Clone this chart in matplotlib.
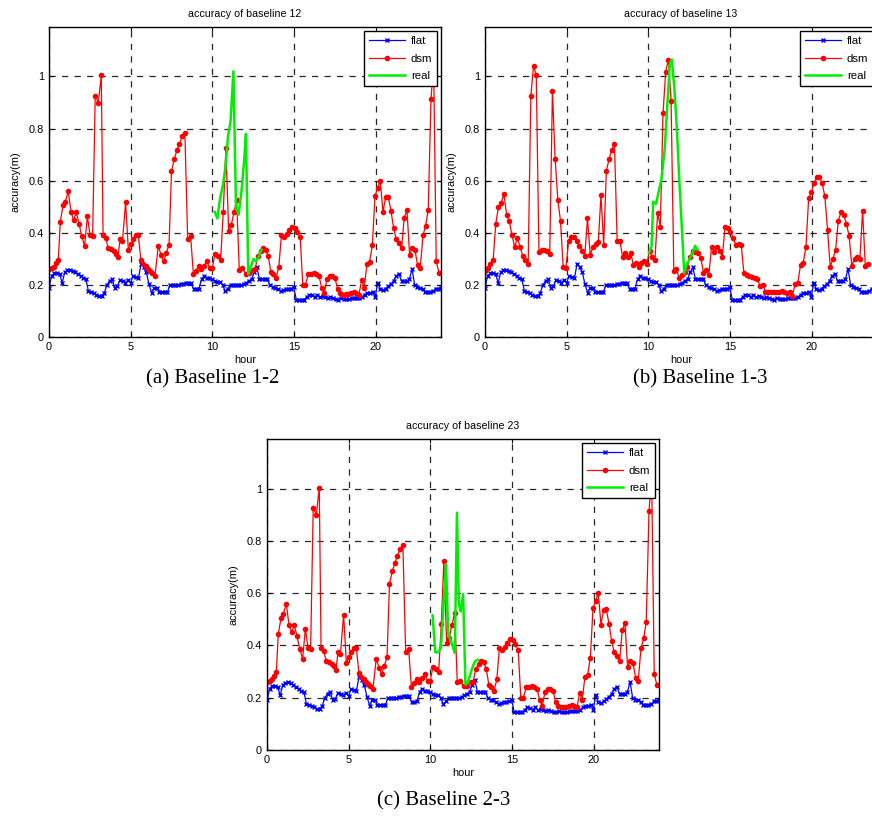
import matplotlib
matplotlib.use('Agg')
import matplotlib.pyplot as plt
import numpy as np

plt.rcParams['font.family'] = ['Liberation Sans', 'DejaVu Sans']

# flat model, 10 min samples over the day (same in all three baselines)
flat = [0.19, 0.235, 0.245, 0.245, 0.242, 0.209, 0.248, 0.258, 0.259, 0.255,
        0.248, 0.242, 0.235, 0.226, 0.222, 0.176, 0.173, 0.17, 0.163, 0.157,
        0.157, 0.17, 0.199, 0.216, 0.222, 0.19, 0.196, 0.22, 0.216, 0.209,
        0.218, 0.207, 0.235, 0.229, 0.226, 0.281, 0.268, 0.248, 0.203, 0.17,
        0.19, 0.19, 0.173, 0.173, 0.173, 0.173, 0.199, 0.199, 0.199, 0.199,
        0.203, 0.203, 0.207, 0.207, 0.207, 0.183, 0.183, 0.186, 0.222, 0.235,
        0.225, 0.225, 0.222, 0.216, 0.212, 0.212, 0.199, 0.176, 0.186, 0.199,
        0.199, 0.199, 0.199, 0.199, 0.204, 0.209, 0.216, 0.222, 0.248, 0.268,
        0.222, 0.222, 0.222, 0.222, 0.199, 0.193, 0.19, 0.183, 0.176, 0.18,
        0.183, 0.183, 0.186, 0.193, 0.144, 0.144, 0.144, 0.144, 0.154, 0.163,
        0.16, 0.154, 0.163, 0.154, 0.157, 0.154, 0.15, 0.154, 0.15, 0.146,
        0.144, 0.15, 0.146, 0.146, 0.146, 0.15, 0.15, 0.15, 0.15, 0.154,
        0.163, 0.17, 0.17, 0.173, 0.154, 0.209, 0.183, 0.18, 0.186, 0.196,
        0.203, 0.216, 0.235, 0.242, 0.216, 0.216, 0.216, 0.222, 0.261, 0.199,
        0.193, 0.19, 0.183, 0.173, 0.173, 0.173, 0.176, 0.186, 0.186, 0.19]
flat_hour = np.linspace(0, 24, len(flat))

# dsm model, baseline 12 (baseline 23 looks the same)
dsm_hour_12 = [0.0, 0.16, 0.3, 0.43, 0.57, 0.69, 0.86, 1.0, 1.18, 1.35,
               1.51, 1.67, 1.84, 2.0, 2.18, 2.35, 2.51, 2.67, 2.83, 3.02,
               3.2, 3.31, 3.47, 3.63, 3.8, 3.96, 4.1, 4.22, 4.35, 4.5,
               4.69, 4.86, 5.02, 5.16, 5.3, 5.47, 5.63, 5.78, 5.92, 6.06,
               6.18, 6.33, 6.49, 6.69, 6.86, 7.02, 7.18, 7.35, 7.5, 7.67,
               7.83, 7.99, 8.15, 8.32, 8.49, 8.67, 8.84, 9.0, 9.16, 9.33,
               9.49, 9.67, 9.84, 10.0, 10.16, 10.33, 10.51, 10.67, 10.83, 11.0,
               11.16, 11.33, 11.49, 11.65, 11.84, 12.04, 12.25, 12.46, 12.62, 12.78,
               12.95, 13.1, 13.27, 13.43, 13.58, 13.74, 13.9, 14.07, 14.23, 14.4,
               14.56, 14.72, 14.88, 15.05, 15.21, 15.38, 15.54, 15.7, 15.87, 16.03,
               16.2, 16.36, 16.53, 16.69, 16.86, 17.02, 17.18, 17.35, 17.51, 17.67,
               17.84, 18.0, 18.16, 18.33, 18.49, 18.65, 18.82, 18.98, 19.14, 19.3,
               19.47, 19.63, 19.8, 19.96, 20.12, 20.28, 20.45, 20.61, 20.77, 20.94,
               21.1, 21.26, 21.43, 21.59, 21.75, 21.92, 22.08, 22.24, 22.41, 22.57,
               22.73, 22.9, 23.06, 23.22, 23.39, 23.55, 23.71, 23.88]
dsm_12 = [0.26, 0.264, 0.27, 0.285, 0.297, 0.443, 0.505, 0.52, 0.56, 0.478,
          0.45, 0.478, 0.435, 0.388, 0.349, 0.464, 0.392, 0.387, 0.927, 0.90,
          1.004, 0.392, 0.38, 0.34, 0.336, 0.33, 0.32, 0.306, 0.375, 0.369,
          0.518, 0.333, 0.357, 0.375, 0.39, 0.39, 0.294, 0.28, 0.272, 0.261,
          0.252, 0.244, 0.235, 0.35, 0.315, 0.29, 0.323, 0.355, 0.636, 0.683,
          0.717, 0.742, 0.77, 0.783, 0.375, 0.388, 0.242, 0.255, 0.272, 0.261,
          0.274, 0.29, 0.264, 0.264, 0.319, 0.311, 0.297, 0.481, 0.724, 0.408,
          0.43, 0.48, 0.525, 0.259, 0.264, 0.243, 0.245, 0.259, 0.26, 0.31,
          0.33, 0.34, 0.335, 0.31, 0.25, 0.24, 0.225, 0.27, 0.39, 0.382,
          0.396, 0.41, 0.424, 0.42, 0.405, 0.383, 0.2, 0.2, 0.24, 0.242,
          0.245, 0.24, 0.235, 0.19, 0.17, 0.222, 0.235, 0.233, 0.227, 0.183,
          0.17, 0.163, 0.165, 0.166, 0.17, 0.174, 0.17, 0.163, 0.218, 0.19,
          0.281, 0.288, 0.353, 0.542, 0.571, 0.6, 0.48, 0.536, 0.539, 0.484,
          0.418, 0.375, 0.36, 0.34, 0.458, 0.486, 0.316, 0.34, 0.333, 0.275,
          0.265, 0.39, 0.427, 0.489, 0.914, 1.05, 0.29, 0.247]
dsm_23 = list(dsm_12)

# dsm model, baseline 13 (cut off at the right edge of the picture)
dsm_13 = [0.255, 0.264, 0.28, 0.294, 0.435, 0.5, 0.514, 0.55, 0.47, 0.444,
          0.392, 0.345, 0.381, 0.345, 0.312, 0.294, 0.28, 0.927, 1.04, 1.005,
          0.328, 0.335, 0.335, 0.332, 0.319, 0.946, 0.683, 0.527, 0.444, 0.267,
          0.264, 0.37, 0.383, 0.383, 0.37, 0.35, 0.332, 0.312, 0.456, 0.315,
          0.345, 0.358, 0.364, 0.544, 0.354, 0.638, 0.683, 0.719, 0.742, 0.37,
          0.37, 0.309, 0.322, 0.306, 0.324, 0.277, 0.286, 0.27, 0.286, 0.29,
          0.28, 0.332, 0.306, 0.294, 0.476, 0.424, 0.858, 1.018, 1.065, 0.905,
          0.255, 0.26, 0.226, 0.238, 0.249, 0.268, 0.309, 0.332, 0.328, 0.322,
          0.305, 0.247, 0.258, 0.238, 0.347, 0.328, 0.347, 0.331, 0.309, 0.424,
          0.42, 0.405, 0.379, 0.354, 0.358, 0.354, 0.245, 0.238, 0.236, 0.232,
          0.228, 0.223, 0.194, 0.2, 0.174, 0.174, 0.174, 0.174, 0.171, 0.174,
          0.178, 0.172, 0.168, 0.172, 0.159, 0.203, 0.209, 0.277, 0.286, 0.345,
          0.533, 0.555, 0.591, 0.613, 0.613, 0.591, 0.54, 0.412, 0.27, 0.299,
          0.335, 0.447, 0.479, 0.469, 0.435, 0.388, 0.274, 0.299, 0.309, 0.299,
          0.485, 0.273, 0.281]
dsm_hour_13 = np.linspace(0, 23.45, len(dsm_13))

# real (measured) accuracy, only around noon
real_hour_12 = [10.15, 10.31, 10.47, 10.64, 10.8, 10.96, 11.12, 11.29, 11.45, 11.61,
                11.77, 11.94, 12.06, 12.2, 12.36, 12.53, 12.69, 12.85, 13.0]
real_12 = [0.48, 0.455, 0.53, 0.58, 0.65, 0.77, 0.83, 1.02, 0.5, 0.47,
           0.55, 0.67, 0.78, 0.24, 0.27, 0.30, 0.29, 0.31, 0.335]
real_hour_13 = [10.04, 10.2, 10.3, 10.47, 10.64, 10.8, 11.0, 11.16, 11.32, 11.44,
                11.6, 11.75, 11.9, 12.2, 12.36, 12.53, 12.7, 12.86, 13.03]
real_13 = [0.322, 0.35, 0.52, 0.511, 0.56, 0.604, 0.72, 0.886, 1.05, 1.065,
           0.95, 0.796, 0.6, 0.245, 0.28, 0.30, 0.32, 0.35, 0.335]
real_hour_23 = [10.14, 10.3, 10.49, 10.65, 10.8, 10.96, 11.1, 11.25, 11.4, 11.5,
                11.63, 11.75, 11.85, 12.01, 12.15, 12.3, 12.45, 12.6, 12.75, 12.9]
real_23 = [0.515, 0.374, 0.374, 0.391, 0.55, 0.71, 0.44, 0.42, 0.39, 0.372,
           0.908, 0.56, 0.53, 0.596, 0.25, 0.26, 0.29, 0.32, 0.34, 0.345]

panels = [
    ('12', [0.0562, 0.5905, 0.4495, 0.3767], dsm_hour_12, dsm_12, real_hour_12, real_12),
    ('13', [0.5562, 0.5905, 0.4495, 0.3767], dsm_hour_13, dsm_13, real_hour_13, real_13),
    ('23', [0.3062, 0.0887, 0.4495, 0.3779], dsm_hour_12, dsm_23, real_hour_23, real_23),
]
captions = [('(a) Baseline 1-2', 0.244, 0.540),
            ('(b) Baseline 1-3', 0.803, 0.540),
            ('(c) Baseline 2-3', 0.509, 0.027)]

fig = plt.figure(figsize=(8.72, 8.23), dpi=100)

for name, pos, dh, dv, rh, rv in panels:
    ax = fig.add_axes(pos)
    ax.plot(flat_hour, flat, color='blue', marker='x', markersize=3.5, lw=0.9, label='flat')
    ax.plot(dh, dv, color='red', marker='o', markersize=3.0, lw=0.9, label='dsm')
    ax.plot(rh, rv, color='#00ee00', lw=1.8, label='real')
    ax.set_xlim(0, 24)
    ax.set_ylim(0, 1.19)
    ax.set_xticks([0, 5, 10, 15, 20])
    ax.set_yticks([0, 0.2, 0.4, 0.6, 0.8, 1])
    ax.set_yticklabels(['0', '0.2', '0.4', '0.6', '0.8', '1'])
    ax.grid(True, color='black', linestyle=(0, (5, 5)), lw=0.9, alpha=0.85)
    ax.tick_params(direction='in', top=True, right=True, labelsize=7.9, length=3)
    for s in ax.spines.values():
        s.set_linewidth(1.0)
    ax.set_title('accuracy of baseline ' + name, fontsize=7.7, pad=7)
    ax.set_xlabel('hour', fontsize=7.9, labelpad=2)
    ax.set_ylabel('accuracy(m)', fontsize=7.9, labelpad=6)
    leg = ax.legend(loc='upper right', fontsize=8.2, fancybox=False, framealpha=1,
                    edgecolor='black', borderaxespad=0.35, handlelength=3.2,
                    handletextpad=0.5, borderpad=0.4, labelspacing=0.7)
    leg.get_frame().set_linewidth(1.0)

for text, x, y in captions:
    fig.text(x, y, text, ha='center', va='center', fontsize=15, family='Liberation Serif')

fig.savefig('out.png', dpi=100)
